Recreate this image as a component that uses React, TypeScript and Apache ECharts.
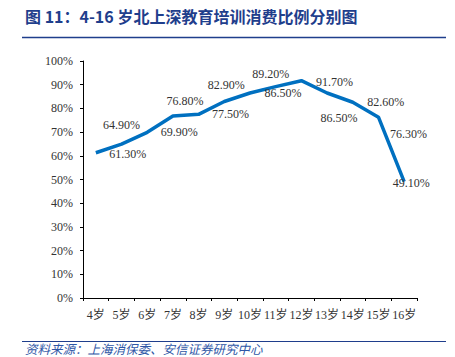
import React, { useEffect, useRef } from "react";
import * as echarts from "echarts";

const categories = ["4岁", "5岁", "6岁", "7岁", "8岁", "9岁", "10岁", "11岁", "12岁", "13岁", "14岁", "15岁", "16岁"];
const values = [61.3, 64.9, 69.9, 76.8, 77.5, 82.9, 86.5, 89.2, 91.7, 86.5, 82.6, 76.3, 49.1];
const labelOffsets: [number, number][] = [
  [32, 1], [0, -19], [32, 0], [12, -15], [32, 0], [2, -17], [33, 0],
  [-5, -13], [33, 1], [12, 25], [33, 0], [30, 17], [7, 1],
];
const titleText = "图 11：4-16 岁北上深教育培训消费比例分别图";
const sourceText = "资料来源：上海消保委、安信证券研究中心";

const serif = "'Liberation Serif', 'Times New Roman', 'Noto Sans CJK SC', serif";

export default function App() {
  const ref = useRef<HTMLDivElement>(null);
  useEffect(() => {
    if (!ref.current) return;
    const chart = echarts.init(ref.current, null, { renderer: "svg" });
    chart.setOption({
      animation: false,
      backgroundColor: "#fff",
      grid: { left: 83, right: 38, top: 61, bottom: 59 },
      xAxis: {
        type: "category",
        data: categories,
        boundaryGap: true,
        axisLine: { lineStyle: { color: "#000", width: 1 } },
        axisTick: { show: true, length: 3, alignWithLabel: false, lineStyle: { color: "#000" } },
        axisLabel: { color: "#333", fontSize: 12, fontFamily: serif, margin: 11, interval: 0 },
      },
      yAxis: {
        type: "value",
        min: 0,
        max: 100,
        interval: 10,
        splitLine: { show: false },
        axisLine: { show: true, lineStyle: { color: "#000", width: 1 } },
        axisTick: { show: true, length: 3, lineStyle: { color: "#000" } },
        axisLabel: { color: "#333", fontSize: 12, fontFamily: serif, margin: 10, formatter: "{value}%" },
      },
      series: [
        {
          type: "line",
          data: values.map((v, i) => ({
            value: v,
            label: { offset: labelOffsets[i] },
          })),
          symbol: "circle",
          symbolSize: 0,
          showSymbol: true,
          lineStyle: { color: "#0070C0", width: 3.5 },
          itemStyle: { color: "#0070C0" },
          label: {
            show: true,
            position: "inside",
            color: "#333",
            fontSize: 12,
            fontFamily: serif,
            formatter: (p: any) => p.value.toFixed(2) + "%",
          },
        },
      ],
      graphic: [
        {
          type: "text",
          left: 25,
          top: 8,
          style: {
            text: titleText,
            fill: "#1F3E8C",
            font: "bold 16px 'Noto Sans CJK SC', 'Liberation Sans', sans-serif",
          },
        },
        {
          type: "line",
          shape: { x1: 22, y1: 37.5, x2: 446, y2: 37.5 },
          style: { stroke: "#1F3E8C", lineWidth: 1.5 },
        },
        {
          type: "line",
          shape: { x1: 22, y1: 341.5, x2: 446, y2: 341.5 },
          style: { stroke: "#1F3E8C", lineWidth: 1.2 },
        },
        {
          type: "text",
          left: 25,
          top: 342,
          style: {
            text: sourceText,
            fill: "#2E56A6",
            lineHeight: 13,
            font: "italic 12.5px 'Noto Sans CJK SC', sans-serif",
          },
        },
      ],
    });
    return () => chart.dispose();
  }, []);
  return <div ref={ref} style={{ width: 455, height: 357, position: "absolute", left: 0, top: 0 }} />;
}
